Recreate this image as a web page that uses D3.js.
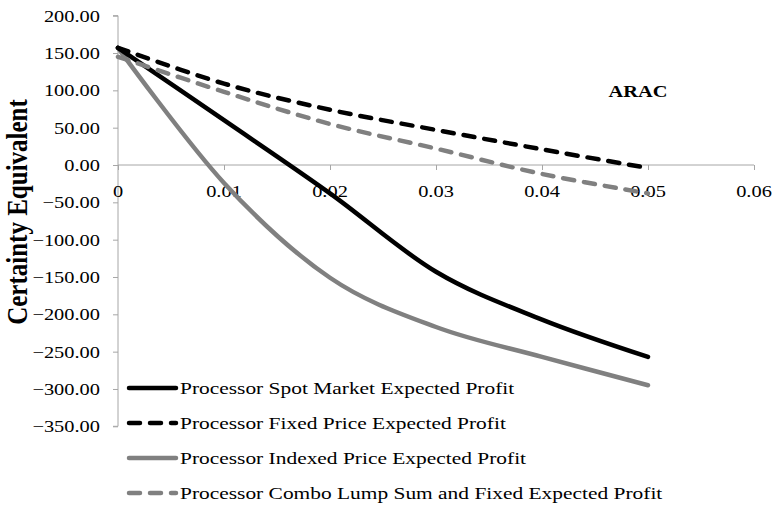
<!DOCTYPE html>
<html>
<head>
<meta charset="utf-8">
<script src="https://cdn.jsdelivr.net/npm/d3@7"></script>
<style>
  html, body { margin: 0; padding: 0; background: #fff; }
  svg { display: block; }
  text { font-family: "Liberation Serif", "Times New Roman", serif; fill: #000; }
</style>
</head>
<body>
<svg id="chart" width="773" height="505"></svg>
<script>
// Risk aversion coefficient (x) and certainty equivalents for each contract type
const aracValues   = [0, 0.01, 0.02, 0.03, 0.04, 0.05];
const spotMarket   = [157, 60, -38, -143, -207, -257];
const fixedPrice   = [157, 109, 74, 47, 21, -4];
const indexedPrice = [157, -24, -151, -217, -257, -295];
const comboLumpSum = [145, 98, 55, 22, -12, -38];

const seriesNames = [
  "Processor Spot Market Expected Profit",
  "Processor Fixed Price Expected Profit",
  "Processor Indexed Price Expected Profit",
  "Processor Combo Lump Sum and Fixed Expected Profit"
];
const xTicks = [0, 0.01, 0.02, 0.03, 0.04, 0.05, 0.06];
const yTicks = [200, 150, 100, 50, 0, -50, -100, -150, -200, -250, -300, -350];

const svg = d3.select("#chart");
const FS = 17, SX = 1.2;           // font size and horizontal text stretch
const axisColor = "#a6a6a6";

const x = d3.scaleLinear().domain([0, 0.06]).range([118, 754]);
const y = d3.scaleLinear().domain([-350, 200]).range([426.3, 15.7]);

function label(g, tx, ty, str, anchor, opts = {}) {
  return g.append("text")
    .attr("transform", `translate(${tx},${ty}) scale(${opts.sx || SX},1)` + (opts.rot ? ` rotate(${opts.rot})` : ""))
    .attr("text-anchor", anchor)
    .attr("font-size", opts.fs || FS)
    .attr("font-weight", opts.bold ? "bold" : "normal")
    .text(str);
}

// Y axis
const yAxis = svg.append("g").attr("transform", `translate(${x(0)},0)`)
  .call(d3.axisLeft(y).tickValues(yTicks).tickSize(5).tickFormat(""));
yAxis.select(".domain").attr("stroke", axisColor).attr("d", `M-5,${y(200)}H0V${y(-350)}H-5`);
yAxis.selectAll(".tick line").attr("stroke", axisColor);
yTicks.forEach(v => label(svg, 100, y(v) + 6, d3.format(".2f")(v), "end"));

// X axis through zero
const xAxis = svg.append("g").attr("transform", `translate(0,${y(0)})`)
  .call(d3.axisBottom(x).tickValues(xTicks).tickSize(5).tickFormat(""));
xAxis.select(".domain").attr("stroke", axisColor).attr("d", `M${x(0)},0H${x(0.06)}`);
xAxis.selectAll(".tick line").attr("stroke", axisColor);
xTicks.forEach(v => label(svg, x(v), y(0) + 32, v === 0 ? "0" : String(v), "middle"));

// Axis title and panel label
label(svg, 27, 212, "Certainty Equivalent", "middle", { bold: true, fs: 25, sx: 1.15, rot: -90 });
label(svg, 638, 97, "ARAC", "middle", { bold: true, sx: 1.2 });

// Lines
const styles = [
  { data: spotMarket,   color: "#000000", dash: null },
  { data: fixedPrice,   color: "#000000", dash: "11,10" },
  { data: indexedPrice, color: "#808080", dash: null },
  { data: comboLumpSum, color: "#808080", dash: "11,10" }
];
const line = d3.line()
  .x((d, i) => x(aracValues[i]))
  .y(d => y(d))
  .curve(d3.curveCatmullRom.alpha(0));

const plot = svg.append("g");
[2, 0, 3, 1].forEach(k => {
  const s = styles[k];
  plot.append("path")
    .attr("d", line(s.data))
    .attr("fill", "none")
    .attr("stroke", s.color)
    .attr("stroke-width", 4.5)
    .attr("stroke-linecap", "round")
    .attr("stroke-linejoin", "round")
    .attr("stroke-dasharray", s.dash);
});

// Legend
const legend = svg.append("g");
seriesNames.forEach((name, i) => {
  const ly = 388 + i * 35;
  legend.append("line")
    .attr("x1", 129).attr("x2", 176).attr("y1", ly).attr("y2", ly)
    .attr("stroke", styles[i].color)
    .attr("stroke-width", 4.5)
    .attr("stroke-linecap", "round")
    .attr("stroke-dasharray", styles[i].dash);
  label(legend, 180, ly + 6, name, "start", { sx: 1.26 });
});
</script>
</body>
</html>
